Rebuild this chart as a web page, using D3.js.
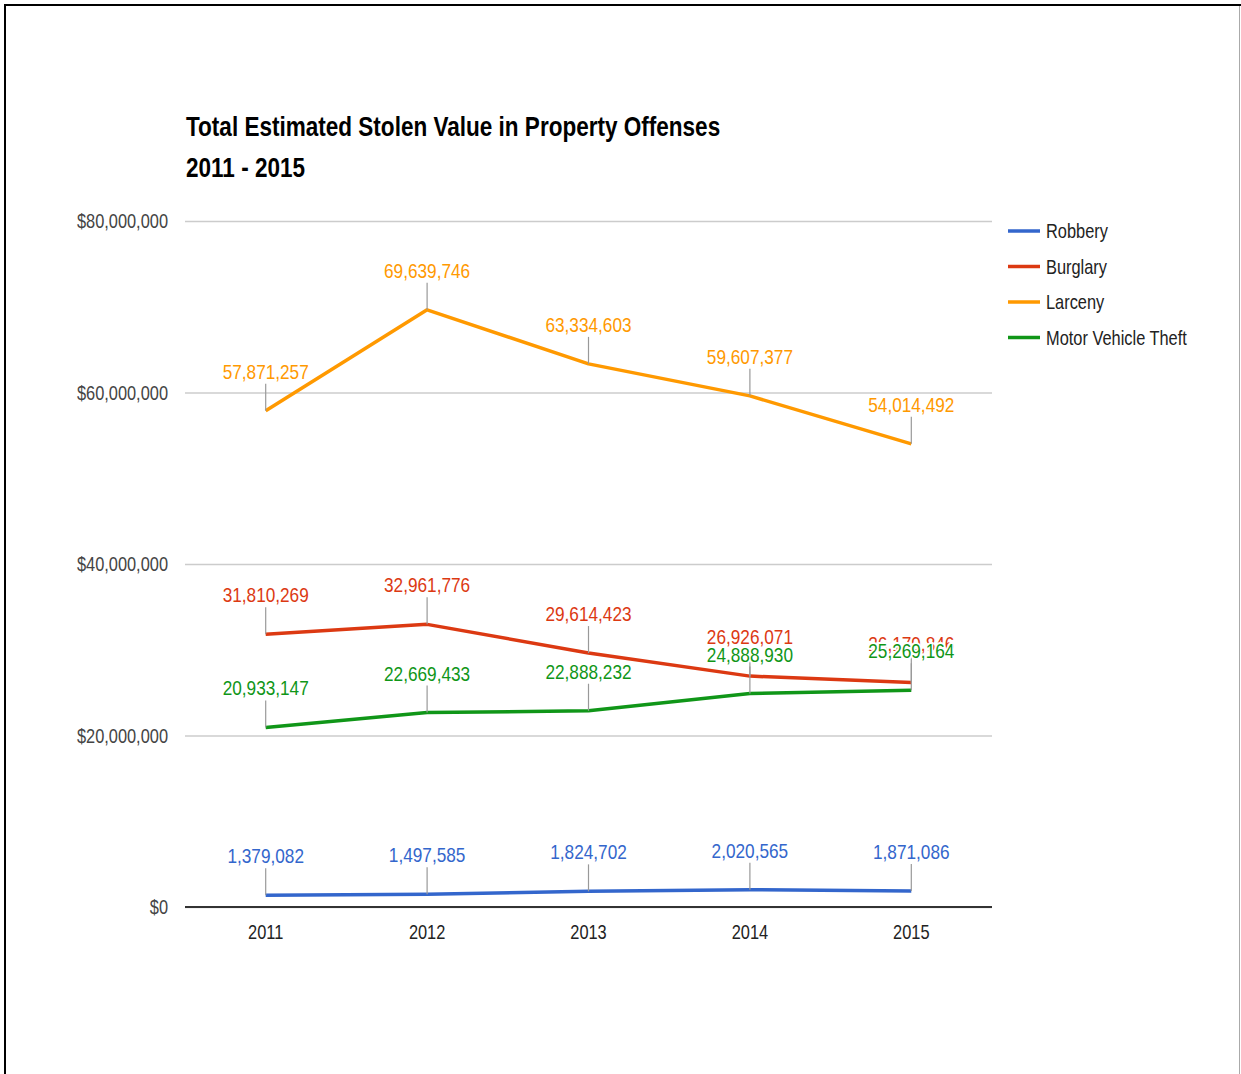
<!DOCTYPE html>
<html>
<head>
<meta charset="utf-8">
<script src="https://cdn.jsdelivr.net/npm/d3@7"></script>
<style>
  html, body { margin: 0; padding: 0; background: #fff; }
  svg { display: block; }
  text { font-family: "Liberation Sans", Arial, sans-serif; }
</style>
</head>
<body>
<svg id="chart" width="1241" height="1074"></svg>
<script>
const years = ["2011", "2012", "2013", "2014", "2015"];
const seriesNames = ["Robbery", "Burglary", "Larceny", "Motor Vehicle Theft"];
const robbery = [1379082, 1497585, 1824702, 2020565, 1871086];
const burglary = [31810269, 32961776, 29614423, 26926071, 26179846];
const larceny = [57871257, 69639746, 63334603, 59607377, 54014492];
const motorVehicleTheft = [20933147, 22669433, 22888232, 24888930, 25269164];
const yTicks = [0, 20000000, 40000000, 60000000, 80000000];
const titleLines = ["Total Estimated Stolen Value in Property Offenses", "2011 - 2015"];

const colors = ["#3366cc", "#dc3912", "#ff9900", "#109618"];
const seriesValues = [robbery, burglary, larceny, motorVehicleTheft];
const SX = 0.82;

const svg = d3.select("#chart");

// frame
svg.append("line").attr("x1", 5).attr("x2", 1241).attr("y1", 5).attr("y2", 5)
  .attr("stroke", "#000").attr("stroke-width", 2);
svg.append("line").attr("x1", 5).attr("x2", 5).attr("y1", 4).attr("y2", 1074)
  .attr("stroke", "#000").attr("stroke-width", 2);
svg.append("line").attr("x1", 1239.5).attr("x2", 1239.5).attr("y1", 6).attr("y2", 1074)
  .attr("stroke", "#aaa").attr("stroke-width", 1);

const plotLeft = 185, plotRight = 992, plotTop = 221, plotBottom = 907;
const x = d3.scalePoint().domain(years).range([plotLeft, plotRight]).padding(0.5);
const y = d3.scaleLinear().domain([0, 80000000]).range([plotBottom, plotTop]);

function sText(sel, tx, ty, str) {
  return sel.append("text")
    .attr("transform", `translate(${tx},${ty}) scale(${SX},1)`)
    .text(str);
}

// title
titleLines.forEach((t, i) => {
  sText(svg, 186, 136 + i * 41, t)
    .attr("font-size", 27.5).attr("font-weight", "bold").attr("fill", "#000");
});

// gridlines + y labels
const yAxis = d3.axisLeft(y).tickValues(yTicks).tickSize(-(plotRight - plotLeft)).tickFormat("");
const gy = svg.append("g").attr("transform", `translate(${plotLeft},0)`).call(yAxis);
gy.select(".domain").remove();
gy.selectAll(".tick line").attr("stroke", "#cccccc").attr("stroke-width", 1.5);
const fmtMoney = d3.format("$,");
yTicks.forEach(v => {
  sText(svg, 168, y(v), fmtMoney(v))
    .attr("font-size", 20).attr("fill", "#444").attr("text-anchor", "end")
    .attr("dominant-baseline", "central");
});

// baseline
svg.append("line").attr("x1", plotLeft).attr("x2", plotRight).attr("y1", y(0)).attr("y2", y(0))
  .attr("stroke", "#333").attr("stroke-width", 2);

// x labels
const xAxis = d3.axisBottom(x).tickSize(0).tickFormat("");
const gx = svg.append("g").attr("transform", `translate(0,${plotBottom})`).call(xAxis);
gx.select(".domain").remove();
years.forEach(yr => {
  sText(svg, x(yr), 932, yr)
    .attr("font-size", 20).attr("fill", "#222").attr("text-anchor", "middle")
    .attr("dominant-baseline", "central");
});

// lines
const line = d3.line().x((d, i) => x(years[i])).y(d => y(d));
seriesValues.forEach((vals, si) => {
  svg.append("path").datum(vals).attr("d", line)
    .attr("fill", "none").attr("stroke", colors[si]).attr("stroke-width", 3.5)
    .attr("stroke-linejoin", "round");
});

// annotations
const fmtNum = d3.format(",");
seriesValues.forEach((vals, si) => {
  const g = svg.append("g");
  vals.forEach((v, i) => {
    const px = x(years[i]), py = y(v);
    g.append("line").attr("x1", px).attr("x2", px).attr("y1", py).attr("y2", py - 27)
      .attr("stroke", "#999").attr("stroke-width", 1.2);
    sText(g, px, py - 32, fmtNum(v))
      .attr("font-size", 21).attr("fill", colors[si]).attr("text-anchor", "middle")
      .attr("stroke", "#fff").attr("stroke-width", 4).attr("paint-order", "stroke");
  });
});

// legend
seriesNames.forEach((n, i) => {
  const ly = 231 + i * 35.5;
  svg.append("line").attr("x1", 1008).attr("x2", 1040).attr("y1", ly).attr("y2", ly)
    .attr("stroke", colors[i]).attr("stroke-width", 3.5);
  sText(svg, 1046, ly, n)
    .attr("font-size", 20).attr("fill", "#222").attr("dominant-baseline", "central");
});
</script>
</body>
</html>
